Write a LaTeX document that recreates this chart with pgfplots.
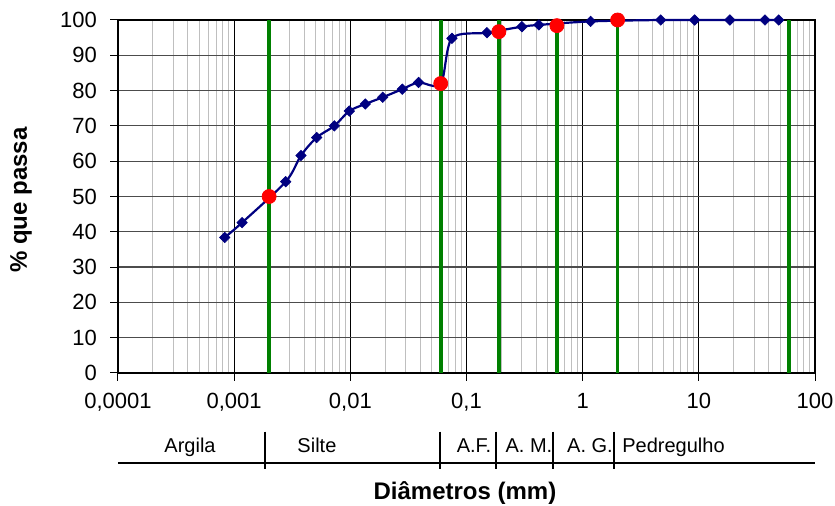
\documentclass[border=0pt]{standalone}
\usepackage{fontspec}
\setmainfont{Liberation Sans}
\usepackage{pgfplots}
\pgfplotsset{compat=1.18}
\definecolor{navyb}{RGB}{0,0,128}
\definecolor{grn}{RGB}{0,128,0}
\definecolor{redp}{RGB}{255,0,0}
\begin{document}
\begin{tikzpicture}
\useasboundingbox (-59pt,-66.5pt) rectangle (358.5pt,186.5pt);
\begin{semilogxaxis}[
 scale only axis, width=348.5pt, height=176.5pt,
 xmin=1e-4, xmax=100, ymin=0, ymax=100,
 xtick={1e-4,1e-3,1e-2,1e-1,1,10,100},
 xticklabels={{0,0001},{0,001},{0,01},{0,1},1,10,100},
 ytick={0,10,...,100},
 tick pos=left,
 tick align=outside, major tick length=4pt, minor tick length=0pt,
 xmajorgrids, xminorgrids, ymajorgrids,
 major x grid style={black, line width=0.5pt},
 minor x grid style={black!25, line width=0.5pt},
 major y grid style={black!70, line width=0.6pt},
 tick style={black, line width=0.5pt},
 axis line style={black, line width=0.8pt},
 ticklabel style={font=\fontsize{11}{13}\selectfont},
 yticklabel style={xshift=-3pt},
 xticklabel style={yshift=-2.5pt},
 /pgf/number format/assume math mode=true,
 clip=false,
]
% classification boundaries (green)
\addplot[grn, line width=1.8pt, forget plot] coordinates {(0.002,0) (0.002,100)};
\addplot[grn, line width=1.8pt, forget plot] coordinates {(0.06,0) (0.06,100)};
\addplot[grn, line width=1.8pt, forget plot] coordinates {(0.19,0) (0.19,100)};
\addplot[grn, line width=1.8pt, forget plot] coordinates {(0.6,0) (0.6,100)};
\addplot[grn, line width=1.8pt, forget plot] coordinates {(2,0) (2,100)};
\addplot[grn, line width=1.8pt, forget plot] coordinates {(60,0) (60,100)};
% grading curve
\addplot[navyb, line width=1.1pt, smooth, tension=0.5, mark=square*, mark size=1.85pt,
  mark options={fill=navyb, draw=navyb, line width=0.3pt, rotate=45}] table {
x y
0.00083 38.4
0.00117 42.6
0.00278 54.2
0.00376 61.6
0.00513 66.7
0.00728 70.0
0.0098 74.2
0.01345 76.2
0.019 78.1
0.028 80.4
0.0387 82.3
0.06 81.9
0.075 94.8
0.15 96.4
0.30 98.1
0.42 98.6
1.17 99.6
4.7 100
9.2 100
18.5 100
37.1 100
48.7 100
};
% characteristic points
\addplot[only marks, mark=*, mark size=3.5pt, color=redp] coordinates {
(0.002,50) (0.06,82) (0.19,96.7) (0.6,98.4) (2,100)};
% classification bar
\draw[black, line width=1pt] ([yshift=-44.85pt]axis cs:1e-4,0) -- ([yshift=-44.85pt]axis cs:100,0);
\pgfplotsinvokeforeach{0.00183,0.0591,0.179,0.559,1.87}{
  \draw[black, line width=1pt] ([yshift=-29.35pt]axis cs:#1,0) -- ([yshift=-48.15pt]axis cs:#1,0);
}
\node[font=\fontsize{10}{12}\selectfont, anchor=base] at ([yshift=-39.85pt]axis cs:0.000417,0) {Argila};
\node[font=\fontsize{10}{12}\selectfont, anchor=base] at ([yshift=-39.85pt]axis cs:0.00516,0) {Silte};
\node[font=\fontsize{10}{12}\selectfont, anchor=base] at ([yshift=-39.85pt]axis cs:0.116,0) {A.F.};
\node[font=\fontsize{10}{12}\selectfont, anchor=base] at ([yshift=-39.85pt]axis cs:0.345,0) {A. M.};
\node[font=\fontsize{10}{12}\selectfont, anchor=base] at ([yshift=-39.85pt]axis cs:1.156,0) {A. G.};
\node[font=\fontsize{10}{12}\selectfont, anchor=base west, inner sep=0pt] at ([yshift=-39.85pt]axis cs:2.18,0) {Pedregulho};
% axis titles
\node[font=\fontsize{12}{14}\selectfont\bfseries, anchor=base] at ([yshift=-63.5pt]axis cs:0.097,0) {Diâmetros (mm)};
\node[font=\fontsize{12}{14}\selectfont\bfseries, rotate=90, anchor=center] at ([xshift=-48.5pt]axis description cs:0,0.49) {\% que passa};
\end{semilogxaxis}
\end{tikzpicture}
\end{document}
